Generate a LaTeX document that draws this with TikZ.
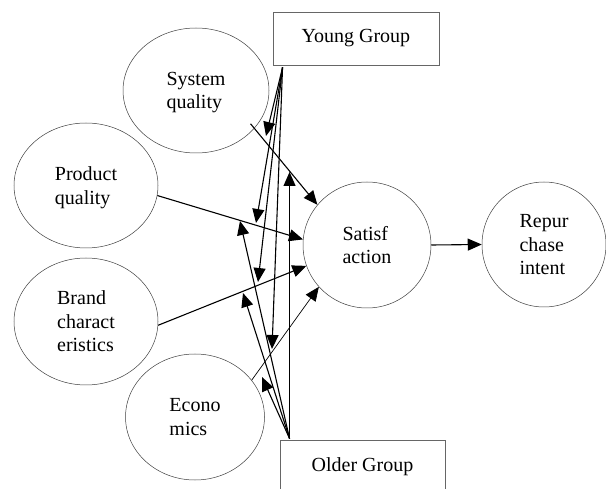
\documentclass[tikz,border=0pt]{standalone}
\usepackage{fontspec}
\setmainfont{Liberation Serif}
\usetikzlibrary{shapes.geometric,arrows.meta,calc}
\begin{document}
\begin{tikzpicture}[x=1pt,y=-1pt,
  every node/.style={font=\fontsize{20}{23.5}\selectfont},
  oval/.style={draw=black!75, line width=0.5pt, ellipse, inner sep=0pt, align=left, text depth=0pt},
  grp/.style={draw=black!60, line width=0.9pt, rectangle, inner sep=0pt},
  conn/.style={line width=1.1pt, -{Triangle[length=14pt,width=12pt]}},
  thinconn/.style={line width=0.7pt, -{Triangle[length=14pt,width=12pt]}}]
\useasboundingbox (0,0) rectangle (606,489);
\fill[white] (0,0) rectangle (606,489);

\node[grp, minimum width=166pt, minimum height=53pt] (young) at (356,38.5) {Young Group};
\node[grp, minimum width=165pt, minimum height=54pt] (older) at (362.5,467) {Older Group};
\node[oval, minimum width=146pt, minimum height=125pt] (sq) at (196,90.5) {System\\quality};
\node[oval, minimum width=144pt, minimum height=125pt] (pq) at (86,185.5) {Product\\quality};
\node[oval, minimum width=144pt, minimum height=127pt] (bc) at (86,321.5) {Brand\\charact\\eristics};
\node[oval, minimum width=139pt, minimum height=126pt] (ec) at (195,417) {Econo\\mics};
\node[oval, minimum width=128pt, minimum height=126pt] (sat) at (367,245) {Satisf\\action};
\node[oval, minimum width=124pt, minimum height=125pt] (rep) at (544,244.5) {Repur\\chase\\intent};

% group origins
\coordinate (yo) at ($(young.south west)+(10,2)$);
\coordinate (oo) at ($(older.north west)+(10,-1)$);
% free arrow tips
\coordinate (ysq) at (266,136);
\coordinate (ypq) at (256,223);
\coordinate (ybc) at (258,282);
\coordinate (yec) at (272,349);
\coordinate (ov)  at (290,172);
\coordinate (opq) at (240,221);
\coordinate (obc) at (243,293);
\coordinate (oec) at (262,377);

% young group connectors
\draw[conn] (yo) -- (ysq);
\draw[conn] (yo) -- (ypq);
\draw[conn] (yo) -- (ybc);
\draw[conn] (yo) -- (yec);
% older group connectors
\draw[conn] (oo) -- (oo |- ov);
\draw[conn] (oo) -- (opq);
\draw[conn] (oo) -- (obc);
\draw[conn] (oo) -- (oec);

% factors to satisfaction
\draw[conn, shorten <=-6pt] (sq.-33) -- (sat.141);
\draw[conn] (pq.-8) -- (sat.175);
\draw[conn] (bc.-3) -- (sat.199);
\draw[thinconn] (ec.33) -- (sat.221);
\draw[conn] (sat.east) -- (rep.west);
\end{tikzpicture}
\end{document}
